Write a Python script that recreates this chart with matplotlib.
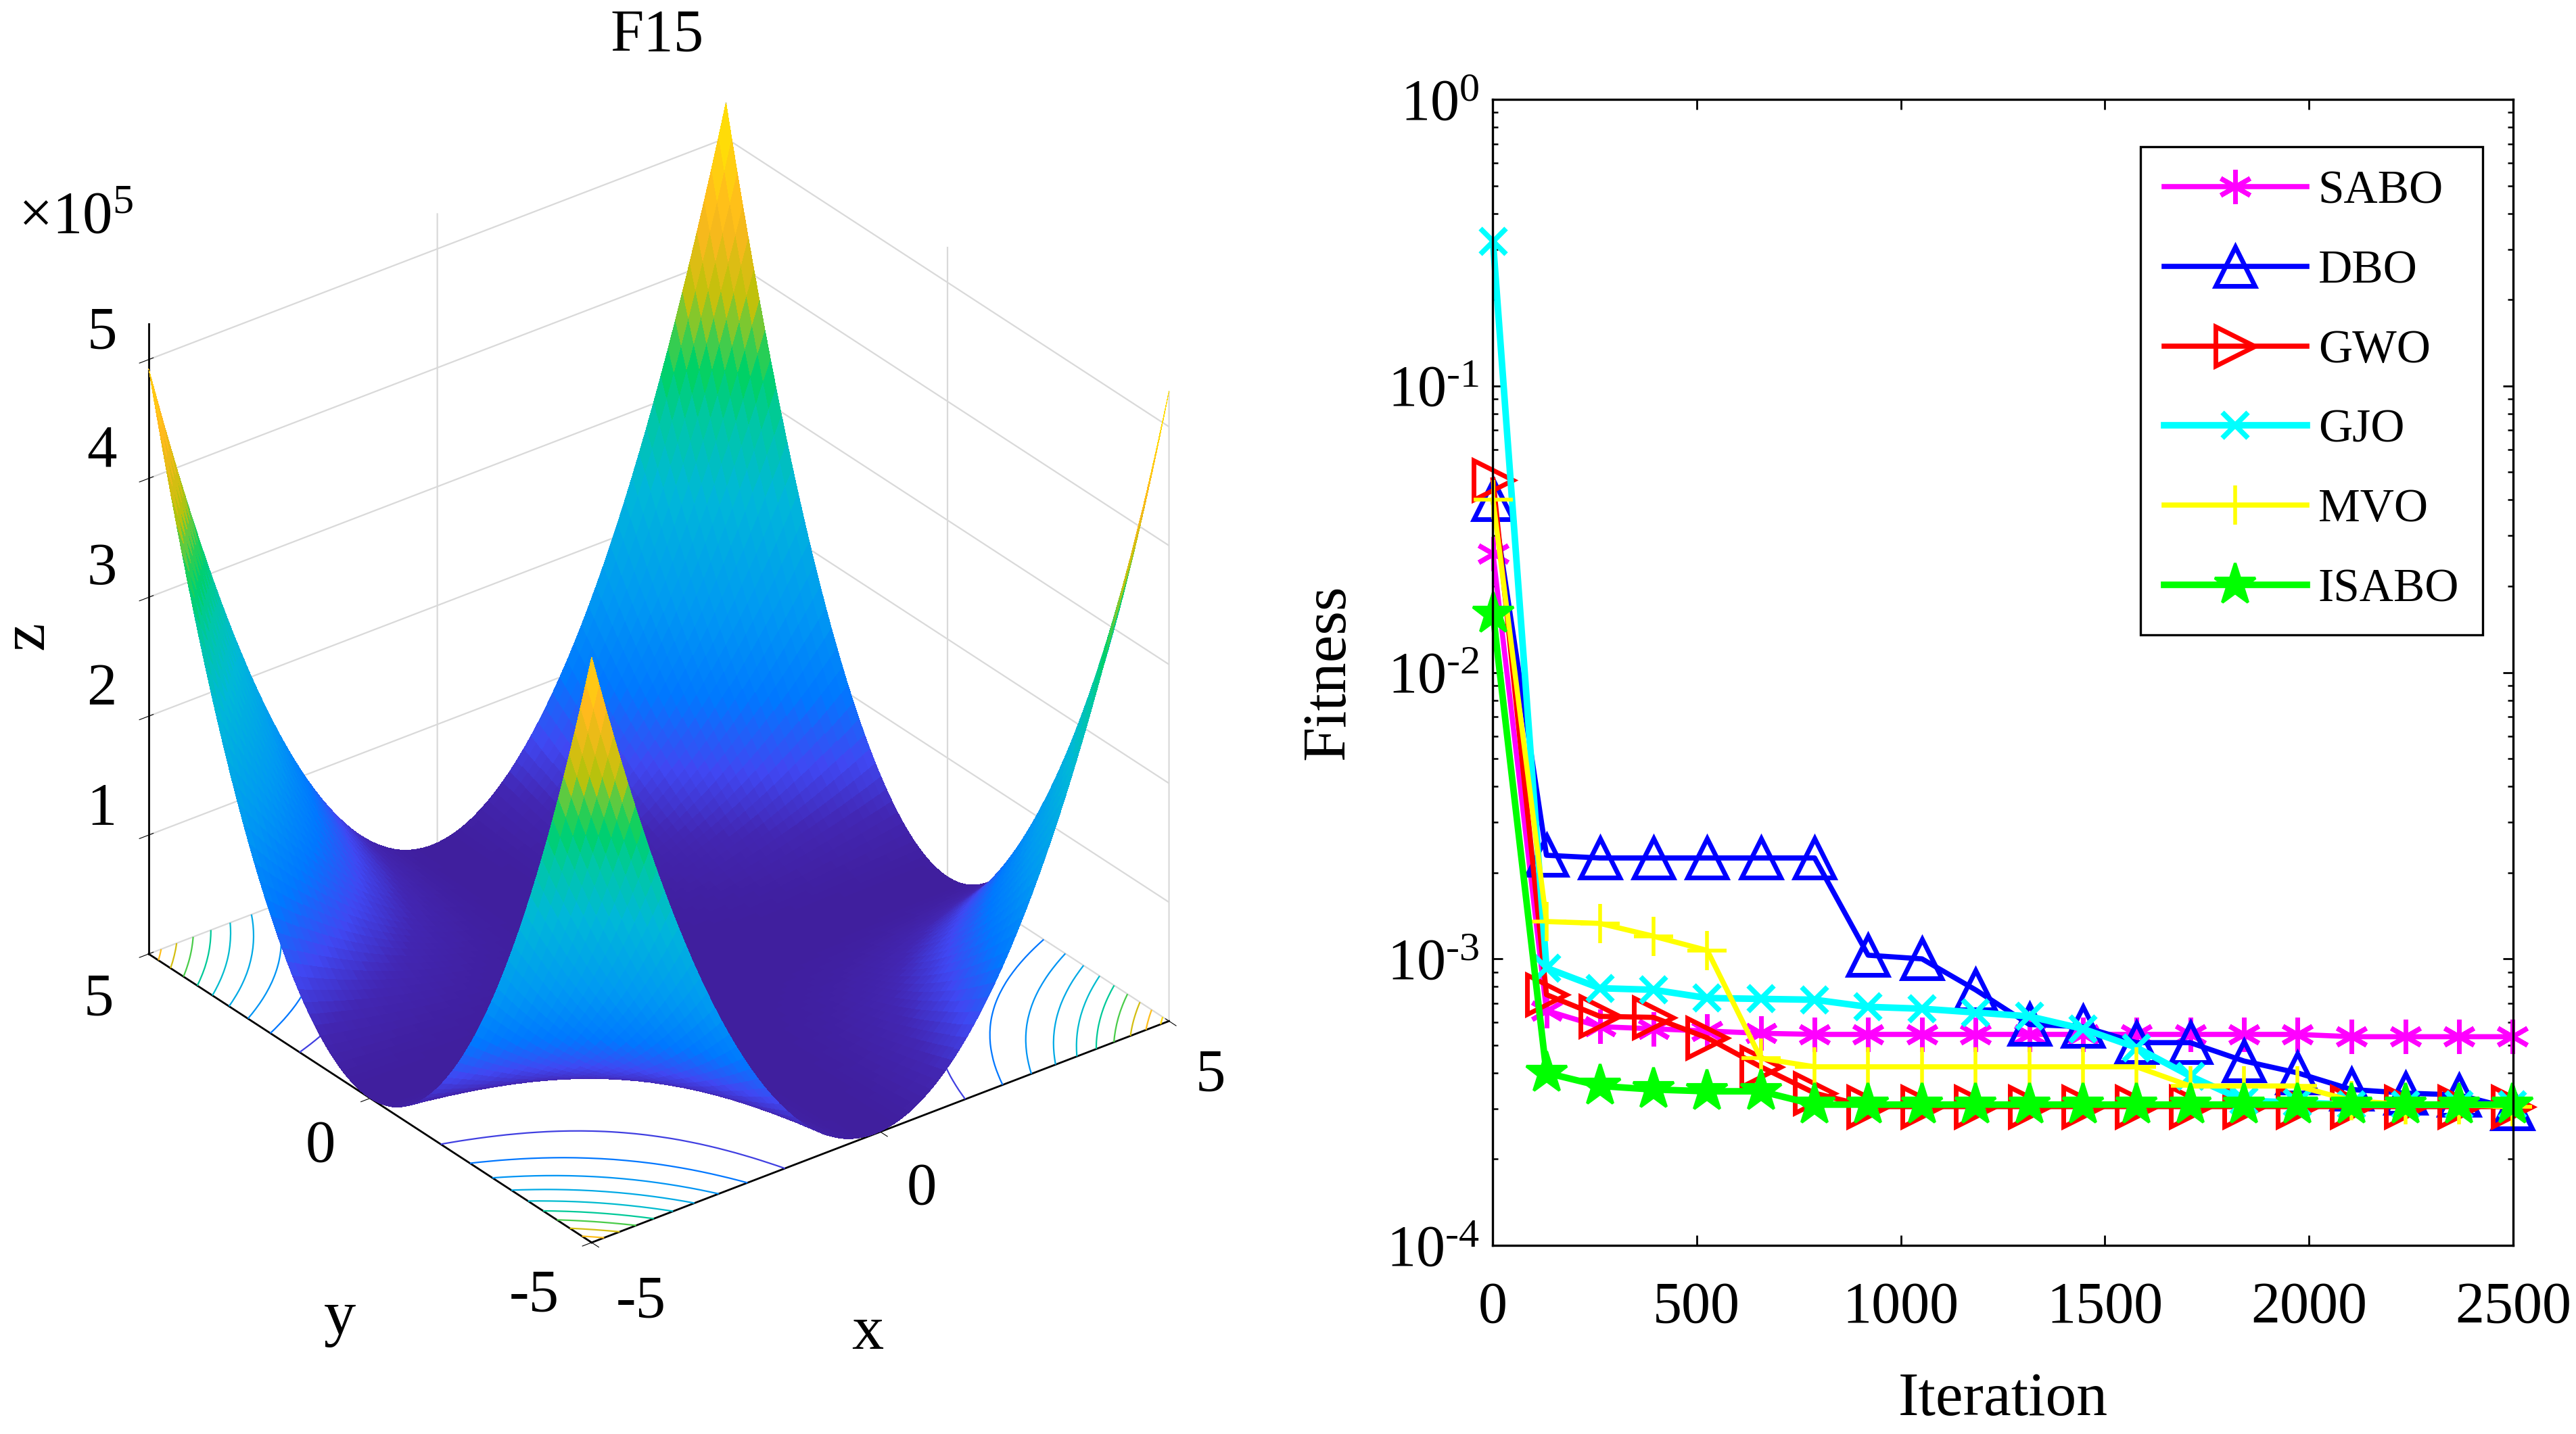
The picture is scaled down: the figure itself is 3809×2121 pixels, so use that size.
import numpy as np
import matplotlib
matplotlib.use("Agg")
import matplotlib.pyplot as plt
from matplotlib.colors import LinearSegmentedColormap

plt.rcParams['font.family'] = ['Liberation Serif', 'DejaVu Serif']
plt.rcParams['mathtext.fontset'] = 'custom'
plt.rcParams['mathtext.rm'] = 'Liberation Serif'
plt.rcParams['mathtext.it'] = 'Liberation Serif'
plt.rcParams['grid.color'] = '#d9d9d9'
plt.rcParams['grid.linewidth'] = 1.6

W, H = 3809, 2121

# F15 surface, tabulated every 0.125 on x and y
grid_xy = [-5 + 0.125 * i for i in range(81)]
# height along the y = +-5 edge, in units of 1e5
edge_height = [4.924, 4.677, 4.435, 4.201, 3.972, 3.750, 3.535, 3.326, 3.122, 2.926,
               2.736, 2.552, 2.375, 2.205, 2.039, 1.881, 1.730, 1.584, 1.445, 1.313,
               1.186, 1.067, 0.953, 0.846, 0.745, 0.651, 0.563, 0.482, 0.406, 0.337,
               0.275, 0.220, 0.170, 0.127, 0.090, 0.059, 0.035, 0.018, 0.006, 0.001,
               0.003,
               0.011, 0.025, 0.046, 0.072, 0.106, 0.146, 0.192, 0.244, 0.304, 0.368,
               0.440, 0.518, 0.603, 0.694, 0.791, 0.895, 1.005, 1.121, 1.245, 1.373,
               1.509, 1.651, 1.799, 1.954, 2.115, 2.282, 2.457, 2.637, 2.823, 3.016,
               3.216, 3.421, 3.634, 3.852, 4.077, 4.309, 4.547, 4.790, 5.041, 5.298]
# share of that edge height left at each y, from the edge down to y = 0
y_share_half = [1, .9506, .9025, .8556, .81, .7656, .7225, .6806, .64, .6006, .5625,
                .5256, .49, .4556, .4225, .3906, .36, .3306, .3025, .2756, .25,
                .2256, .2025, .1806, .16, .1406, .1225, .1056, .09, .0756, .0625,
                .0506, .04, .0306, .0225, .0156, .01, .0056, .0025, .0006, 0]
contour_levels = [0.5, 1, 1.5, 2, 2.5, 3, 3.5, 4, 4.5, 5]

# convergence curves
iterations = [1, 132, 263, 394, 526, 657, 789, 920, 1052, 1183, 1315, 1446, 1578, 1709, 1841, 1972, 2104, 2236, 2367, 2499]
sabo = [2.6e-2, 6.6e-4, 5.8e-4, 5.7e-4, 5.6e-4, 5.5e-4, 5.45e-4, 5.45e-4, 5.45e-4, 5.45e-4, 5.45e-4, 5.45e-4, 5.45e-4, 5.45e-4, 5.45e-4, 5.45e-4, 5.35e-4, 5.35e-4, 5.35e-4, 5.35e-4]
dbo = [4.0e-2, 2.3e-3, 2.25e-3, 2.25e-3, 2.25e-3, 2.25e-3, 2.25e-3, 1.03e-3, 1.0e-3, 7.8e-4, 5.9e-4, 5.8e-4, 5.1e-4, 5.1e-4, 4.4e-4, 4.0e-4, 3.5e-4, 3.4e-4, 3.35e-4, 3.0e-4]
gwo = [4.7e-2, 7.5e-4, 6.3e-4, 6.25e-4, 5.3e-4, 4.2e-4, 3.4e-4, 3.05e-4, 3.05e-4, 3.05e-4, 3.05e-4, 3.05e-4, 3.05e-4, 3.05e-4, 3.05e-4, 3.05e-4, 3.05e-4, 3.05e-4, 3.05e-4, 3.05e-4]
gjo = [3.2e-1, 9.3e-4, 7.9e-4, 7.8e-4, 7.3e-4, 7.25e-4, 7.2e-4, 6.8e-4, 6.7e-4, 6.5e-4, 6.3e-4, 5.7e-4, 4.9e-4, 3.9e-4, 3.2e-4, 3.15e-4, 3.1e-4, 3.1e-4, 3.1e-4, 3.1e-4]
mvo = [4.0e-2, 1.35e-3, 1.33e-3, 1.2e-3, 1.07e-3, 4.5e-4, 4.2e-4, 4.2e-4, 4.2e-4, 4.2e-4, 4.2e-4, 4.2e-4, 4.2e-4, 3.6e-4, 3.6e-4, 3.6e-4, 3.2e-4, 3.1e-4, 3.1e-4, 3.05e-4]
isabo = [1.6e-2, 4.0e-4, 3.6e-4, 3.5e-4, 3.45e-4, 3.45e-4, 3.1e-4, 3.1e-4, 3.1e-4, 3.1e-4, 3.1e-4, 3.1e-4, 3.1e-4, 3.1e-4, 3.1e-4, 3.1e-4, 3.1e-4, 3.1e-4, 3.1e-4, 3.1e-4]
series_names = ['SABO', 'DBO', 'GWO', 'GJO', 'MVO', 'ISABO']

x_ticks = [0, 500, 1000, 1500, 2000, 2500]
y_ticks = [1e-4, 1e-3, 1e-2, 1e-1, 1]
y_labels = [r'$10^{\text{-}4}$', r'$10^{\text{-}3}$', r'$10^{\text{-}2}$', r'$10^{\text{-}1}$', r'$10^{0}$']

parula = LinearSegmentedColormap.from_list('parula_like', [
    (0.0, (0.25, 0.12, 0.62)), (0.05, (0.26, 0.15, 0.70)), (0.11, (0.25, 0.28, 0.95)),
    (0.19, (0.0, 0.47, 1.0)), (0.30, (0.0, 0.60, 0.95)), (0.45, (0.0, 0.72, 0.85)),
    (0.55, (0.0, 0.78, 0.65)), (0.62, (0.0, 0.82, 0.40)), (0.68, (0.40, 0.79, 0.24)),
    (0.72, (0.74, 0.76, 0.04)), (0.83, (1.0, 0.72, 0.12)), (1.0, (1.0, 0.92, 0.0))])

fig = plt.figure(figsize=(W / 100, H / 100), dpi=100)


def put(px, py, s, **kw):
    # place text by pixel position in the 1568 wide view of the figure
    fig.text(px * W / 1568 / W, 1 - py * W / 1568 / H, s, ha=kw.pop('ha', 'center'), va='center',
             fontsize=kw.pop('fontsize', 64), **kw)


# surface panel
ax3 = fig.add_axes([-0.001, 0.0689, 0.5, 0.9], projection='3d', computed_zorder=False)
ax3.set_proj_type('ortho')
ax3.view_init(elev=30, azim=-127.5)
ax3.set_box_aspect((1, 1, 1), zoom=0.95)

X, Y = np.meshgrid(grid_xy, grid_xy)
Z = np.outer(y_share_half + y_share_half[-2::-1], edge_height)

ax3.contour(X, Y, Z, levels=contour_levels, zdir='z', offset=0, cmap=parula, vmin=0, vmax=5.3,
            linewidths=1.6, zorder=1)
ax3.plot_surface(X, Y, Z, rstride=1, cstride=1, cmap=parula, vmin=0, vmax=5.3, linewidth=0,
                 antialiased=False, shade=False, zorder=2)

ax3.set_xlim(-5, 5, view_margin=0)
ax3.set_ylim(-5, 5, view_margin=0)
ax3.set_zlim(0, 5.3, view_margin=0)
ax3.set_xticks([-5, 0, 5])
ax3.set_yticks([-5, 0, 5])
ax3.set_zticks([1, 2, 3, 4, 5])
ax3.set_xticklabels([])
ax3.set_yticklabels([])
ax3.set_zticklabels([])
for axis in (ax3.xaxis, ax3.yaxis, ax3.zaxis):
    axis.set_pane_color((1, 1, 1, 0))
    axis.pane.set_edgecolor('#d9d9d9')
    axis.line.set_color('black')
    axis.line.set_linewidth(2)

put(400, 22, 'F15')
put(46, 133, r'$\times 10^{5}$')
for label, py in zip(['1', '2', '3', '4', '5'], [493, 420, 347, 275, 203]):
    put(62, py, label)
put(60, 609, '5')
put(195, 698, '0')
put(325, 789, '-5')
put(390, 793, '-5')
put(561, 724, '0')
put(737, 655, '5')
put(528, 812, 'x', fontsize=68)
put(207, 803, 'y', fontsize=68)
put(17, 387, 'z', fontsize=68, rotation=90)

# convergence panel
ax = fig.add_axes([2207 / W, 1 - 1842 / H, 1509 / W, 1695 / H])
ax.semilogy(iterations, sabo, color='#ff00ff', lw=5.5, marker=(6, 2, 0), ms=36, mew=5, label=series_names[0])
ax.semilogy(iterations, dbo, color='#0000ff', lw=5.5, marker='^', ms=42, mew=5, mfc='none', label=series_names[1])
ax.semilogy(iterations, gwo, color='#ff0000', lw=5.5, marker='>', ms=42, mew=5, mfc='none', label=series_names[2])
ax.semilogy(iterations, gjo, color='#00ffff', lw=7, marker='x', ms=28, mew=5.5, label=series_names[3])
ax.semilogy(iterations, mvo, color='#ffff00', lw=5.5, marker='+', ms=42, mew=4, label=series_names[4])
ax.semilogy(iterations, isabo, color='#00ff00', lw=7, marker='*', ms=46, mew=3, label=series_names[5])
for line in ax.get_lines():
    line.set_clip_on(False)

ax.set_xlim(0, 2500)
ax.set_ylim(1e-4, 1)
ax.set_xticks(x_ticks)
ax.set_yticks(y_ticks)
ax.set_yticklabels(y_labels)
ax.tick_params(which='major', direction='in', top=True, right=True, length=11, width=2, labelsize=62)
ax.tick_params(which='minor', direction='in', left=True, right=True, length=6, width=1.8)
ax.tick_params(axis='x', pad=38)
ax.tick_params(axis='y', pad=14)
for spine in ax.spines.values():
    spine.set_linewidth(2.4)
ax.set_xlabel('Iteration', fontsize=66, labelpad=40)
ax.set_ylabel('Fitness', fontsize=66, labelpad=31)

leg = ax.legend(loc='upper left', bbox_to_anchor=((3165 - 2207) / 1509, 1 - (217 - 147) / 1695), borderaxespad=0,
                numpoints=1, fontsize=50, fancybox=False, framealpha=1, edgecolor='black',
                handlelength=3.04, handletextpad=0.245, labelspacing=0.78, borderpad=0.5)
leg.get_frame().set_linewidth(2.4)

fig.savefig('out.png', dpi=100)
